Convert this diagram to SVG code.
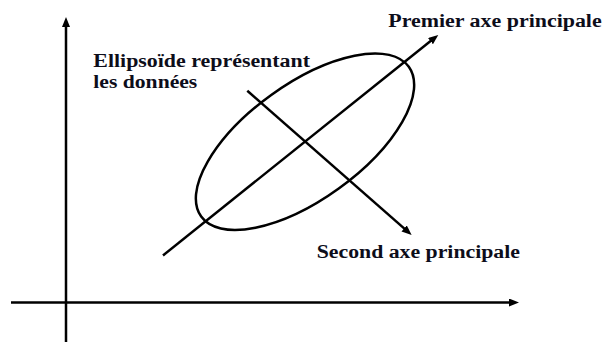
<svg xmlns="http://www.w3.org/2000/svg" width="605" height="342" viewBox="0 0 605 342">
<defs>
<marker id="arr" markerUnits="userSpaceOnUse" markerWidth="11" markerHeight="9" refX="3" refY="4" orient="auto">
<path d="M0,0 L10,4 L0,8 z" fill="#000"/>
</marker>
<style>
.ln{stroke:#000;stroke-width:2.5;fill:none}
.lbl{font-weight:700;font-size:18px;fill:#0d0d1a}
</style>
</defs>
<rect width="605" height="342" fill="#fff"/>
<g id="connectors">
<line class="ln" x1="66" y1="342" x2="66" y2="24" marker-end="url(#arr)"/>
<line class="ln" x1="11" y1="302.5" x2="512" y2="302.5" marker-end="url(#arr)"/>
<line class="ln" x1="163" y1="255.4" x2="432.8" y2="39.3" marker-end="url(#arr)"/>
<line class="ln" x1="247.3" y1="90.7" x2="406.4" y2="230.4" marker-end="url(#arr)"/>
</g>
<g id="ellipse">
<ellipse class="ln" cx="305" cy="141.7" rx="128" ry="57.7" transform="rotate(-35.8 305 141.7)"/>
</g>
<g font-family="Liberation Serif, serif">
<g id="label-ellipse">
<text class="lbl" x="93.3" y="67" textLength="216.7" lengthAdjust="spacingAndGlyphs">Ellipsoïde représentant</text>
<text class="lbl" x="93.3" y="88.3" textLength="104" lengthAdjust="spacingAndGlyphs">les données</text>
</g>
<g id="label-premier">
<text class="lbl" x="388.3" y="27" textLength="213.4" lengthAdjust="spacingAndGlyphs">Premier axe principale</text>
</g>
<g id="label-second">
<text class="lbl" x="316.7" y="258.3" textLength="203.3" lengthAdjust="spacingAndGlyphs">Second axe principale</text>
</g>
</g>
</svg>
